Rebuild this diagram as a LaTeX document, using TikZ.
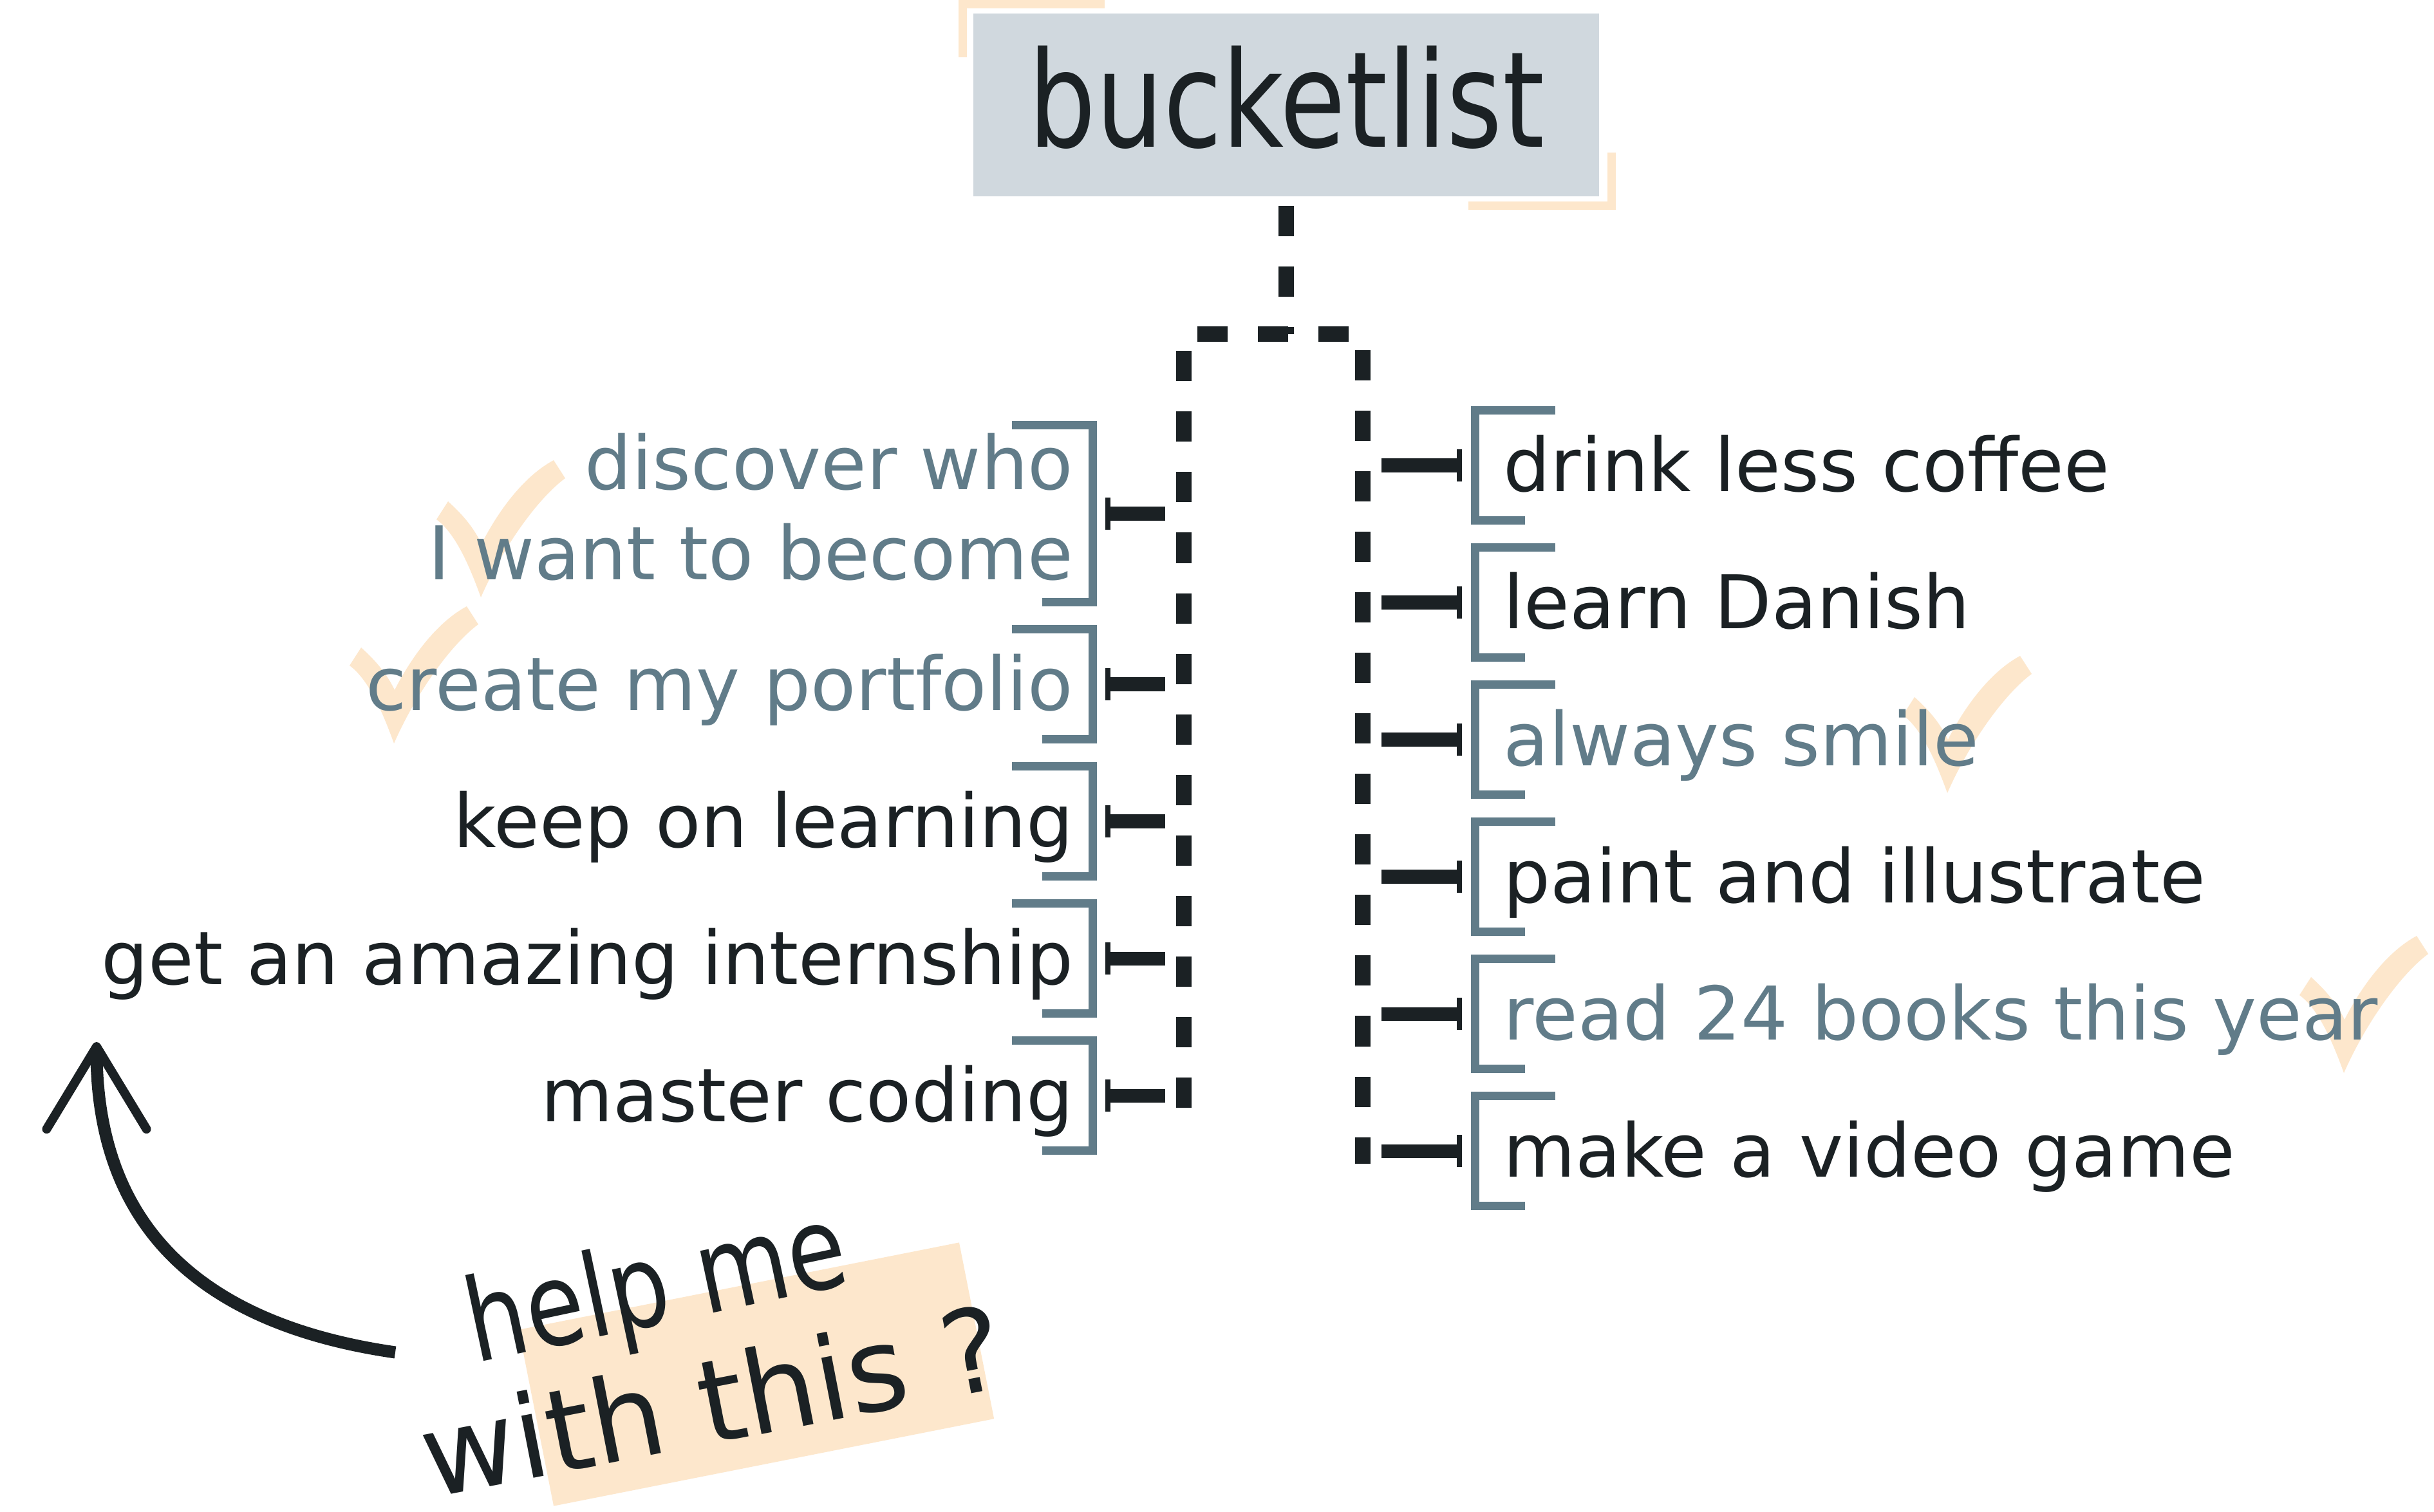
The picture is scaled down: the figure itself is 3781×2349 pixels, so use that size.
\documentclass[tikz,border=0pt]{standalone}
\usepackage{fontspec}
\setmainfont{DejaVu Sans}
\usepackage{tikz}
\usetikzlibrary{arrows.meta}

\definecolor{ink}{RGB}{27,33,36}
\definecolor{slate}{RGB}{97,124,137}
\definecolor{mist}{RGB}{208,216,222}
\definecolor{peach}{RGB}{253,231,204}

\newcommand{\hand}[2][0.8]{\scalebox{#1}[1]{#2}}

\tikzset{
   titlebox/.style={fill=mist, text=ink, inner sep=0pt, minimum width=9.72cm, minimum height=2.84cm,
      font=\fontsize{58.9}{60}\selectfont, text height=1.57cm, text depth=0.27cm},
   corner/.style={draw=peach, line width=0.13cm},
   trunk/.style={draw=ink, line width=0.24cm, dash pattern=on 0.47cm off 0.47cm},
   item/.style={font=\fontsize{32.7}{39.8}\selectfont, inner ysep=0pt, minimum height=1.70cm,
      text height=0.95cm, text depth=0.15cm},
   leftitem/.style={item, anchor=east, align=right, inner xsep=0.29cm},
   rightitem/.style={item, anchor=west, align=left, inner xsep=0.44cm},
   bracket/.style={draw=slate, line width=0.13cm},
   branch/.style={draw=ink, line width=0.21cm, shorten <=0.29cm, shorten >=0.20cm,
      -{Bar[width=0.49cm, line width'=0.08cm]}},
   pointer/.style={draw=ink, line width=0.19cm,
      -{Straight Barb[length=1.28cm, width=1.55cm, line width'=0.14cm, round]}},
   notepad/.style={fill=peach, inner sep=0pt, minimum width=6.97cm, minimum height=2.79cm},
   scrawl/.style={text=ink, inner sep=0pt, anchor=base west, font=\fontsize{51}{60}\selectfont},
   tickmark/.pic={
      \fill[peach] (-69,-121) -- (-51,-149) .. controls (-30,-130) and (-12,-110) .. (1,-83)
         .. controls (30,-140) and (70,-190) .. (113,-213) -- (131,-185)
         .. controls (90,-155) and (35,-80) .. (0,0)
         .. controls (-18,-50) and (-40,-100) .. cycle;
   }
}

\begin{document}
\begin{tikzpicture}[x=0.01cm, y=-0.01cm]
   \useasboundingbox (0,0) rectangle (3781,2349);
   \fill[white] (0,0) rectangle (3781,2349);

   \node[notepad, rotate=11.2] (pad) at (1175,2135) {};
   \pic at (747,928) {tickmark};
   \pic at (612,1155) {tickmark};
   \pic at (3025,1232) {tickmark};
   \pic at (3641,1667) {tickmark};

   \node[titlebox] (title) at (1998,163) {\hand{bucketlist}};
   \draw[corner] ([shift={(205,-14)}]title.north west) -- ([shift={(-16,-14)}]title.north west) -- ([shift={(-16,69)}]title.north west);
   \draw[corner] ([shift={(18,-69)}]title.south east) -- ([shift={(18,14)}]title.south east) -- ([shift={(-204,14)}]title.south east);

   \coordinate (fork) at (1998,519);
   \coordinate (railL) at (1839,1721);
   \coordinate (railR) at (2117,1808);
   \draw[trunk, shorten <=0.14cm] (title.south) -- (fork);
   \draw[trunk] (railL) |- (fork) -| (railR);

   \node[leftitem, text=slate, minimum height=2.74cm, text height=2.19cm] (who) at (1697,798) {discover who\\I want to become};
   \node[leftitem, text=slate] (portfolio) at (1697,1063) {create my portfolio};
   \node[leftitem, text=ink] (learning) at (1697,1276) {keep on learning};
   \node[leftitem, text=ink] (internship) at (1697,1489) {get an amazing internship};
   \node[leftitem, text=ink] (coding) at (1697,1702) {master coding};

   \node[rightitem, text=ink] (coffee) at (2291,723) {drink less coffee};
   \node[rightitem, text=ink] (danish) at (2291,936) {learn Danish};
   \node[rightitem, text=slate] (smile) at (2291,1149) {always smile};
   \node[rightitem, text=ink] (paint) at (2291,1362) {paint and illustrate};
   \node[rightitem, text=slate] (books) at (2291,1575) {read 24 books this year};
   \node[rightitem, text=ink] (game) at (2291,1788) {make a video game};

   \draw[bracket] ([xshift=-1.25cm]who.north east) -- (who.north east) -- (who.south east) -- ([xshift=-0.78cm]who.south east);
   \draw[bracket] ([xshift=-1.25cm]portfolio.north east) -- (portfolio.north east) -- (portfolio.south east) -- ([xshift=-0.78cm]portfolio.south east);
   \draw[bracket] ([xshift=-1.25cm]learning.north east) -- (learning.north east) -- (learning.south east) -- ([xshift=-0.78cm]learning.south east);
   \draw[bracket] ([xshift=-1.25cm]internship.north east) -- (internship.north east) -- (internship.south east) -- ([xshift=-0.78cm]internship.south east);
   \draw[bracket] ([xshift=-1.25cm]coding.north east) -- (coding.north east) -- (coding.south east) -- ([xshift=-0.78cm]coding.south east);

   \draw[bracket] ([xshift=1.25cm]coffee.north west) -- (coffee.north west) -- (coffee.south west) -- ([xshift=0.78cm]coffee.south west);
   \draw[bracket] ([xshift=1.25cm]danish.north west) -- (danish.north west) -- (danish.south west) -- ([xshift=0.78cm]danish.south west);
   \draw[bracket] ([xshift=1.25cm]smile.north west) -- (smile.north west) -- (smile.south west) -- ([xshift=0.78cm]smile.south west);
   \draw[bracket] ([xshift=1.25cm]paint.north west) -- (paint.north west) -- (paint.south west) -- ([xshift=0.78cm]paint.south west);
   \draw[bracket] ([xshift=1.25cm]books.north west) -- (books.north west) -- (books.south west) -- ([xshift=0.78cm]books.south west);
   \draw[bracket] ([xshift=1.25cm]game.north west) -- (game.north west) -- (game.south west) -- ([xshift=0.78cm]game.south west);

   \draw[branch] (railL |- who) -- (who);
   \draw[branch] (railL |- portfolio) -- (portfolio);
   \draw[branch] (railL |- learning) -- (learning);
   \draw[branch] (railL |- internship) -- (internship);
   \draw[branch] (railL |- coding) -- (coding);

   \draw[branch] (railR |- coffee) -- (coffee);
   \draw[branch] (railR |- danish) -- (danish);
   \draw[branch] (railR |- smile) -- (smile);
   \draw[branch] (railR |- paint) -- (paint);
   \draw[branch] (railR |- books) -- (books);
   \draw[branch] (railR |- game) -- (game);

   \node[scrawl, rotate=12] (help) at (738,2118) {\hand[0.82]{help me}};
   \node[scrawl, rotate=11] (withthis) at (668,2328) {\hand[1]{with this ?}};

   \coordinate (tail) at (614,2101);
   \coordinate (aim) at (150,1619);
   \draw[pointer] (tail) .. controls (330,2060) and (150,1920) .. (aim);
\end{tikzpicture}
\end{document}
